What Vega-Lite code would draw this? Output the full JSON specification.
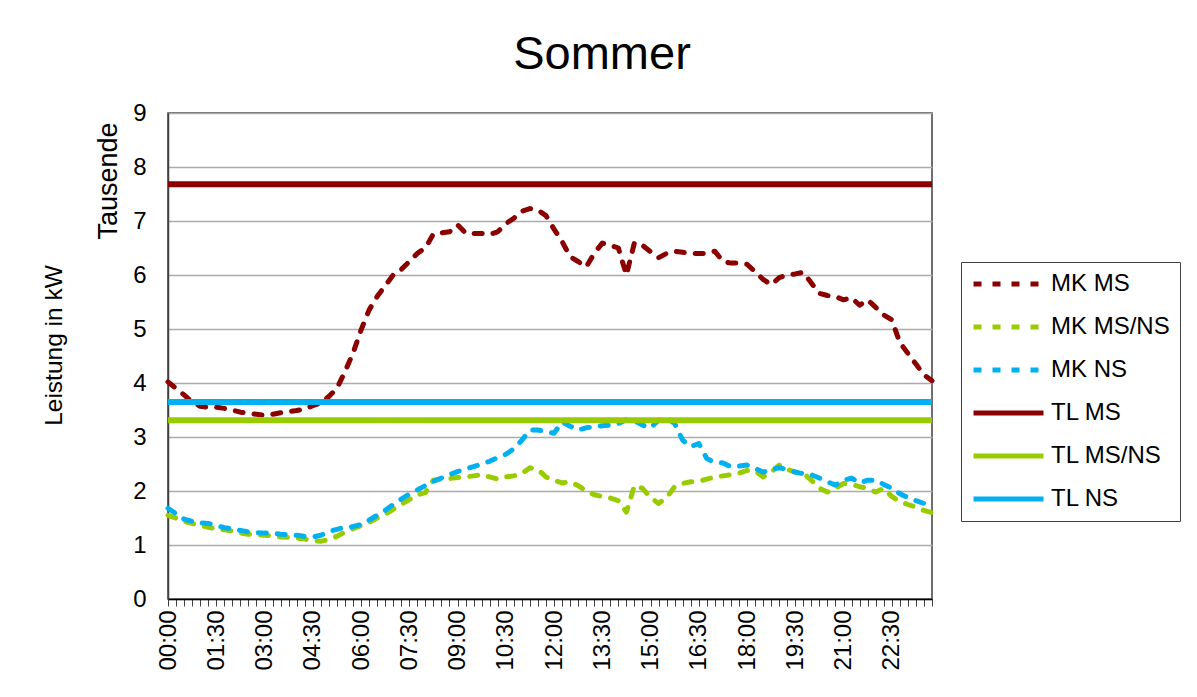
{
  "$schema": "https://vega.github.io/schema/vega-lite/v6.json",
  "autosize": {"type": "none"},
  "width": 764,
  "height": 486,
  "padding": {"left": 168, "top": 113, "right": 265, "bottom": 98},
  "background": "white",
  "config": {
    "font": "Liberation Sans",
    "view": {"stroke": "#404040", "strokeWidth": 1.5},
    "axis": {"labelFont": "Liberation Sans", "titleFont": "Liberation Sans", "labelColor": "black", "titleColor": "black", "titleFontWeight": "normal"},
    "legend": {"labelFont": "Liberation Sans"}
  },
  "title": {
    "text": "Sommer",
    "fontSize": 47,
    "fontWeight": "normal",
    "font": "Liberation Sans",
    "color": "black",
    "anchor": "middle",
    "frame": "group",
    "dx": 52,
    "offset": 22
  },
  "datasets": {
    "mk": [
      {"t":"00:00","MK MS":4.02,"MK MS/NS":1.55,"MK NS":1.68},
      {"t":"00:15","MK MS":3.90,"MK MS/NS":1.50,"MK NS":1.58},
      {"t":"00:30","MK MS":3.78,"MK MS/NS":1.44,"MK NS":1.48},
      {"t":"00:45","MK MS":3.65,"MK MS/NS":1.40,"MK NS":1.44},
      {"t":"01:00","MK MS":3.57,"MK MS/NS":1.36,"MK NS":1.41},
      {"t":"01:15","MK MS":3.55,"MK MS/NS":1.33,"MK NS":1.40},
      {"t":"01:30","MK MS":3.55,"MK MS/NS":1.30,"MK NS":1.36},
      {"t":"01:45","MK MS":3.53,"MK MS/NS":1.28,"MK NS":1.32},
      {"t":"02:00","MK MS":3.50,"MK MS/NS":1.26,"MK NS":1.30},
      {"t":"02:15","MK MS":3.46,"MK MS/NS":1.22,"MK NS":1.27},
      {"t":"02:30","MK MS":3.44,"MK MS/NS":1.20,"MK NS":1.24},
      {"t":"02:45","MK MS":3.42,"MK MS/NS":1.19,"MK NS":1.23},
      {"t":"03:00","MK MS":3.40,"MK MS/NS":1.18,"MK NS":1.22},
      {"t":"03:15","MK MS":3.42,"MK MS/NS":1.17,"MK NS":1.22},
      {"t":"03:30","MK MS":3.45,"MK MS/NS":1.15,"MK NS":1.20},
      {"t":"03:45","MK MS":3.47,"MK MS/NS":1.14,"MK NS":1.19},
      {"t":"04:00","MK MS":3.49,"MK MS/NS":1.13,"MK NS":1.18},
      {"t":"04:15","MK MS":3.52,"MK MS/NS":1.11,"MK NS":1.16},
      {"t":"04:30","MK MS":3.58,"MK MS/NS":1.08,"MK NS":1.15},
      {"t":"04:45","MK MS":3.63,"MK MS/NS":1.07,"MK NS":1.18},
      {"t":"05:00","MK MS":3.75,"MK MS/NS":1.10,"MK NS":1.25},
      {"t":"05:15","MK MS":3.90,"MK MS/NS":1.16,"MK NS":1.29},
      {"t":"05:30","MK MS":4.21,"MK MS/NS":1.24,"MK NS":1.33},
      {"t":"05:45","MK MS":4.55,"MK MS/NS":1.30,"MK NS":1.34},
      {"t":"06:00","MK MS":4.98,"MK MS/NS":1.36,"MK NS":1.38},
      {"t":"06:15","MK MS":5.35,"MK MS/NS":1.42,"MK NS":1.46},
      {"t":"06:30","MK MS":5.60,"MK MS/NS":1.50,"MK NS":1.55},
      {"t":"06:45","MK MS":5.80,"MK MS/NS":1.57,"MK NS":1.64},
      {"t":"07:00","MK MS":6.00,"MK MS/NS":1.66,"MK NS":1.75},
      {"t":"07:15","MK MS":6.10,"MK MS/NS":1.75,"MK NS":1.85},
      {"t":"07:30","MK MS":6.25,"MK MS/NS":1.84,"MK NS":1.94},
      {"t":"07:45","MK MS":6.40,"MK MS/NS":1.93,"MK NS":2.02},
      {"t":"08:00","MK MS":6.50,"MK MS/NS":1.97,"MK NS":2.10},
      {"t":"08:15","MK MS":6.76,"MK MS/NS":2.20,"MK NS":2.18},
      {"t":"08:30","MK MS":6.78,"MK MS/NS":2.22,"MK NS":2.24},
      {"t":"08:45","MK MS":6.80,"MK MS/NS":2.23,"MK NS":2.30},
      {"t":"09:00","MK MS":6.93,"MK MS/NS":2.25,"MK NS":2.36},
      {"t":"09:15","MK MS":6.78,"MK MS/NS":2.26,"MK NS":2.41},
      {"t":"09:30","MK MS":6.77,"MK MS/NS":2.28,"MK NS":2.45},
      {"t":"09:45","MK MS":6.77,"MK MS/NS":2.30,"MK NS":2.50},
      {"t":"10:00","MK MS":6.75,"MK MS/NS":2.26,"MK NS":2.55},
      {"t":"10:15","MK MS":6.80,"MK MS/NS":2.22,"MK NS":2.62},
      {"t":"10:30","MK MS":6.95,"MK MS/NS":2.26,"MK NS":2.68},
      {"t":"10:45","MK MS":7.05,"MK MS/NS":2.28,"MK NS":2.78},
      {"t":"11:00","MK MS":7.18,"MK MS/NS":2.32,"MK NS":2.94},
      {"t":"11:15","MK MS":7.23,"MK MS/NS":2.43,"MK NS":3.13},
      {"t":"11:30","MK MS":7.20,"MK MS/NS":2.40,"MK NS":3.13},
      {"t":"11:45","MK MS":7.10,"MK MS/NS":2.26,"MK NS":3.10},
      {"t":"12:00","MK MS":6.85,"MK MS/NS":2.20,"MK NS":3.07},
      {"t":"12:15","MK MS":6.62,"MK MS/NS":2.15,"MK NS":3.28},
      {"t":"12:30","MK MS":6.34,"MK MS/NS":2.17,"MK NS":3.20},
      {"t":"12:45","MK MS":6.25,"MK MS/NS":2.10,"MK NS":3.13},
      {"t":"13:00","MK MS":6.15,"MK MS/NS":2.00,"MK NS":3.17},
      {"t":"13:15","MK MS":6.40,"MK MS/NS":1.93,"MK NS":3.19},
      {"t":"13:30","MK MS":6.59,"MK MS/NS":1.90,"MK NS":3.21},
      {"t":"13:45","MK MS":6.55,"MK MS/NS":1.87,"MK NS":3.22},
      {"t":"14:00","MK MS":6.50,"MK MS/NS":1.82,"MK NS":3.25},
      {"t":"14:15","MK MS":6.00,"MK MS/NS":1.61,"MK NS":3.32},
      {"t":"14:30","MK MS":6.60,"MK MS/NS":2.10,"MK NS":3.30},
      {"t":"14:45","MK MS":6.55,"MK MS/NS":2.05,"MK NS":3.22},
      {"t":"15:00","MK MS":6.43,"MK MS/NS":1.88,"MK NS":3.17},
      {"t":"15:15","MK MS":6.32,"MK MS/NS":1.77,"MK NS":3.31},
      {"t":"15:30","MK MS":6.40,"MK MS/NS":1.88,"MK NS":3.35},
      {"t":"15:45","MK MS":6.44,"MK MS/NS":2.08,"MK NS":3.25},
      {"t":"16:00","MK MS":6.42,"MK MS/NS":2.14,"MK NS":2.94},
      {"t":"16:15","MK MS":6.40,"MK MS/NS":2.17,"MK NS":2.82},
      {"t":"16:30","MK MS":6.40,"MK MS/NS":2.18,"MK NS":2.88},
      {"t":"16:45","MK MS":6.40,"MK MS/NS":2.22,"MK NS":2.60},
      {"t":"17:00","MK MS":6.44,"MK MS/NS":2.26,"MK NS":2.53},
      {"t":"17:15","MK MS":6.25,"MK MS/NS":2.28,"MK NS":2.52},
      {"t":"17:30","MK MS":6.22,"MK MS/NS":2.30,"MK NS":2.45},
      {"t":"17:45","MK MS":6.22,"MK MS/NS":2.33,"MK NS":2.46},
      {"t":"18:00","MK MS":6.20,"MK MS/NS":2.38,"MK NS":2.48},
      {"t":"18:15","MK MS":6.06,"MK MS/NS":2.37,"MK NS":2.42},
      {"t":"18:30","MK MS":5.92,"MK MS/NS":2.26,"MK NS":2.35},
      {"t":"18:45","MK MS":5.82,"MK MS/NS":2.35,"MK NS":2.40},
      {"t":"19:00","MK MS":5.95,"MK MS/NS":2.48,"MK NS":2.43},
      {"t":"19:15","MK MS":6.00,"MK MS/NS":2.40,"MK NS":2.40},
      {"t":"19:30","MK MS":6.02,"MK MS/NS":2.35,"MK NS":2.35},
      {"t":"19:45","MK MS":6.05,"MK MS/NS":2.33,"MK NS":2.32},
      {"t":"20:00","MK MS":5.85,"MK MS/NS":2.20,"MK NS":2.30},
      {"t":"20:15","MK MS":5.66,"MK MS/NS":2.05,"MK NS":2.24},
      {"t":"20:30","MK MS":5.62,"MK MS/NS":1.98,"MK NS":2.17},
      {"t":"20:45","MK MS":5.60,"MK MS/NS":2.05,"MK NS":2.11},
      {"t":"21:00","MK MS":5.54,"MK MS/NS":2.14,"MK NS":2.20},
      {"t":"21:15","MK MS":5.58,"MK MS/NS":2.12,"MK NS":2.24},
      {"t":"21:30","MK MS":5.44,"MK MS/NS":2.08,"MK NS":2.15},
      {"t":"21:45","MK MS":5.54,"MK MS/NS":2.05,"MK NS":2.20},
      {"t":"22:00","MK MS":5.40,"MK MS/NS":1.98,"MK NS":2.20},
      {"t":"22:15","MK MS":5.26,"MK MS/NS":2.05,"MK NS":2.12},
      {"t":"22:30","MK MS":5.17,"MK MS/NS":1.90,"MK NS":2.05},
      {"t":"22:45","MK MS":4.75,"MK MS/NS":1.80,"MK NS":1.95},
      {"t":"23:00","MK MS":4.55,"MK MS/NS":1.75,"MK NS":1.88},
      {"t":"23:15","MK MS":4.35,"MK MS/NS":1.70,"MK NS":1.82},
      {"t":"23:30","MK MS":4.15,"MK MS/NS":1.64,"MK NS":1.77},
      {"t":"23:45","MK MS":4.04,"MK MS/NS":1.60,"MK NS":1.72}
    ],
    "tl": [
      {"t":"00:00","s":"TL MS","v":7.68},
      {"t":"23:45","s":"TL MS","v":7.68},
      {"t":"00:00","s":"TL MS/NS","v":3.31},
      {"t":"23:45","s":"TL MS/NS","v":3.31},
      {"t":"00:00","s":"TL NS","v":3.65},
      {"t":"23:45","s":"TL NS","v":3.65}
    ]
  },
  "encoding": {
    "x": {
      "field": "t",
      "type": "ordinal",
      "scale": {"type": "point", "padding": 0},
      "axis": {
        "title": null,
        "labelAngle": 270,
        "labelFontSize": 24,
        "labelPadding": 4,
        "labelOverlap": false,
        "labelBound": false,
        "labelFlush": false,
        "labelExpr": "(toNumber(substring(datum.value,0,2))*60 + toNumber(substring(datum.value,3,5))) % 90 == 0 ? datum.value : ''",
        "tickSize": 7,
        "tickColor": "#404040",
        "tickWidth": 1,
        "domainColor": "black",
        "domainWidth": 1.5,
        "grid": false
      }
    },
    "color": {
      "field": "s",
      "type": "nominal",
      "scale": {
        "domain": ["MK MS", "MK MS/NS", "MK NS", "TL MS", "TL MS/NS", "TL NS"],
        "range": ["#8B0000", "#99CC00", "#00B0F0", "#8B0000", "#99CC00", "#00B0F0"]
      },
      "legend": {
        "title": null,
        "orient": "none",
        "legendX": 793,
        "legendY": 149,
        "labelFontSize": 24,
        "labelColor": "black",
        "labelOffset": 5,
        "symbolSize": 4900,
        "symbolStrokeWidth": 5,
        "symbolType": "stroke",
        "clipHeight": 24,
        "rowPadding": 19,
        "padding": 10,
        "strokeColor": "#404040",
        "fillColor": "white"
      }
    },
    "strokeDash": {
      "field": "s",
      "type": "nominal",
      "scale": {
        "domain": ["MK MS", "MK MS/NS", "MK NS", "TL MS", "TL MS/NS", "TL NS"],
        "range": [[8, 11], [8, 11], [8, 11], [1, 0], [1, 0], [1, 0]]
      },
      "legend": {
        "title": null,
        "orient": "none",
        "legendX": 793,
        "legendY": 149,
        "labelFontSize": 24,
        "labelColor": "black",
        "labelOffset": 5,
        "symbolSize": 4900,
        "symbolStrokeWidth": 5,
        "symbolType": "stroke",
        "clipHeight": 24,
        "rowPadding": 19,
        "padding": 10,
        "strokeColor": "#404040",
        "fillColor": "white"
      }
    }
  },
  "layer": [
    {
      "data": {"name": "mk"},
      "transform": [{"fold": ["MK MS", "MK MS/NS", "MK NS"], "as": ["s", "v"]}],
      "mark": {"type": "line", "strokeWidth": 5, "strokeCap": "round", "strokeJoin": "round"},
      "encoding": {
        "y": {
          "field": "v",
          "type": "quantitative",
          "scale": {"domain": [0, 9], "nice": false},
          "axis": {
            "title": "Leistung in kW",
            "titleFontSize": 24.5,
            "titleFontWeight": "normal",
            "titleAngle": 270,
            "titleAlign": "center",
            "titleBaseline": "bottom",
            "titleX": -102,
            "titleY": 232,
            "values": [0, 1, 2, 3, 4, 5, 6, 7, 8, 9],
            "labelFontSize": 24,
            "labelPadding": 22,
            "tickSize": 0,
            "domainColor": "#404040",
            "domainWidth": 1.5,
            "grid": true,
            "gridColor": "#ABABAB",
            "gridWidth": 1.5
          }
        }
      }
    },
    {
      "data": {"name": "tl"},
      "mark": {"type": "line", "strokeWidth": 6, "strokeCap": "butt"},
      "encoding": {
        "y": {
          "field": "v",
          "type": "quantitative",
          "scale": {"domain": [0, 9], "nice": false},
          "axis": {
            "orient": "left",
            "title": "Tausende",
            "titleFontSize": 27,
            "titleFontWeight": "normal",
            "titleAngle": 270,
            "titleAlign": "right",
            "titleBaseline": "bottom",
            "titleX": -46,
            "titleY": 9,
            "labels": false,
            "ticks": false,
            "domain": false,
            "grid": false
          }
        }
      }
    }
  ],
  "resolve": {"scale": {"y": "independent"}, "axis": {"y": "independent"}}
}
